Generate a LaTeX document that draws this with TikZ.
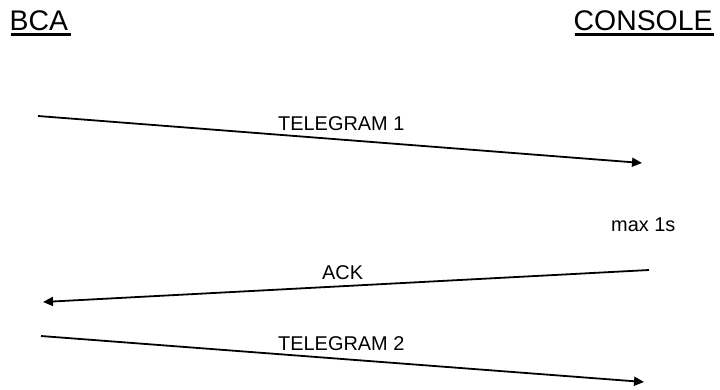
\documentclass[tikz,border=0pt]{standalone}
\usepackage{fontspec}
\setmainfont{Liberation Sans}
\usetikzlibrary{arrows.meta}
\begin{document}
\begin{tikzpicture}[x=1bp,y=-1bp,
  title/.style={inner sep=0pt,anchor=base west,font=\fontsize{28.5}{32}\selectfont},
  label/.style={inner sep=0pt,anchor=base west,font=\fontsize{20}{24}\selectfont},
  msg/.style={line width=1.8bp,-{Triangle[length=10bp,width=9bp]}},
  rule/.style={line width=2.6bp}]
  \useasboundingbox (0,0) rectangle (720,389);
  % party headings
  \node[title] (bca) at (9.5,30) {BCA};
  \node[title] (console) at (573.5,30) {CONSOLE};
  \draw[rule] ([shift={(1.5,4.5)}]bca.base west) -- ([shift={(3,4.5)}]bca.base east);
  \draw[rule] ([shift={(1,4.5)}]console.base west) -- ([shift={(1,4.5)}]console.base east);
  % message end points
  \coordinate (t1s) at (38,116);
  \coordinate (t1e) at (642,163);
  \coordinate (acks) at (649,270);
  \coordinate (acke) at (43,302);
  \coordinate (t2s) at (41,336);
  \coordinate (t2e) at (644,382);
  % messages
  \draw[msg] (t1s) -- (t1e);
  \draw[msg] (acks) -- (acke);
  \draw[msg] (t2s) -- (t2e);
  % labels
  \node[label] (l1) at (278,130) {TELEGRAM 1};
  \node[label] (lmax) at (611,231) {max 1s};
  \node[label] (lack) at (322,279) {ACK};
  \node[label] (l2) at (278,350) {TELEGRAM 2};
\end{tikzpicture}
\end{document}
